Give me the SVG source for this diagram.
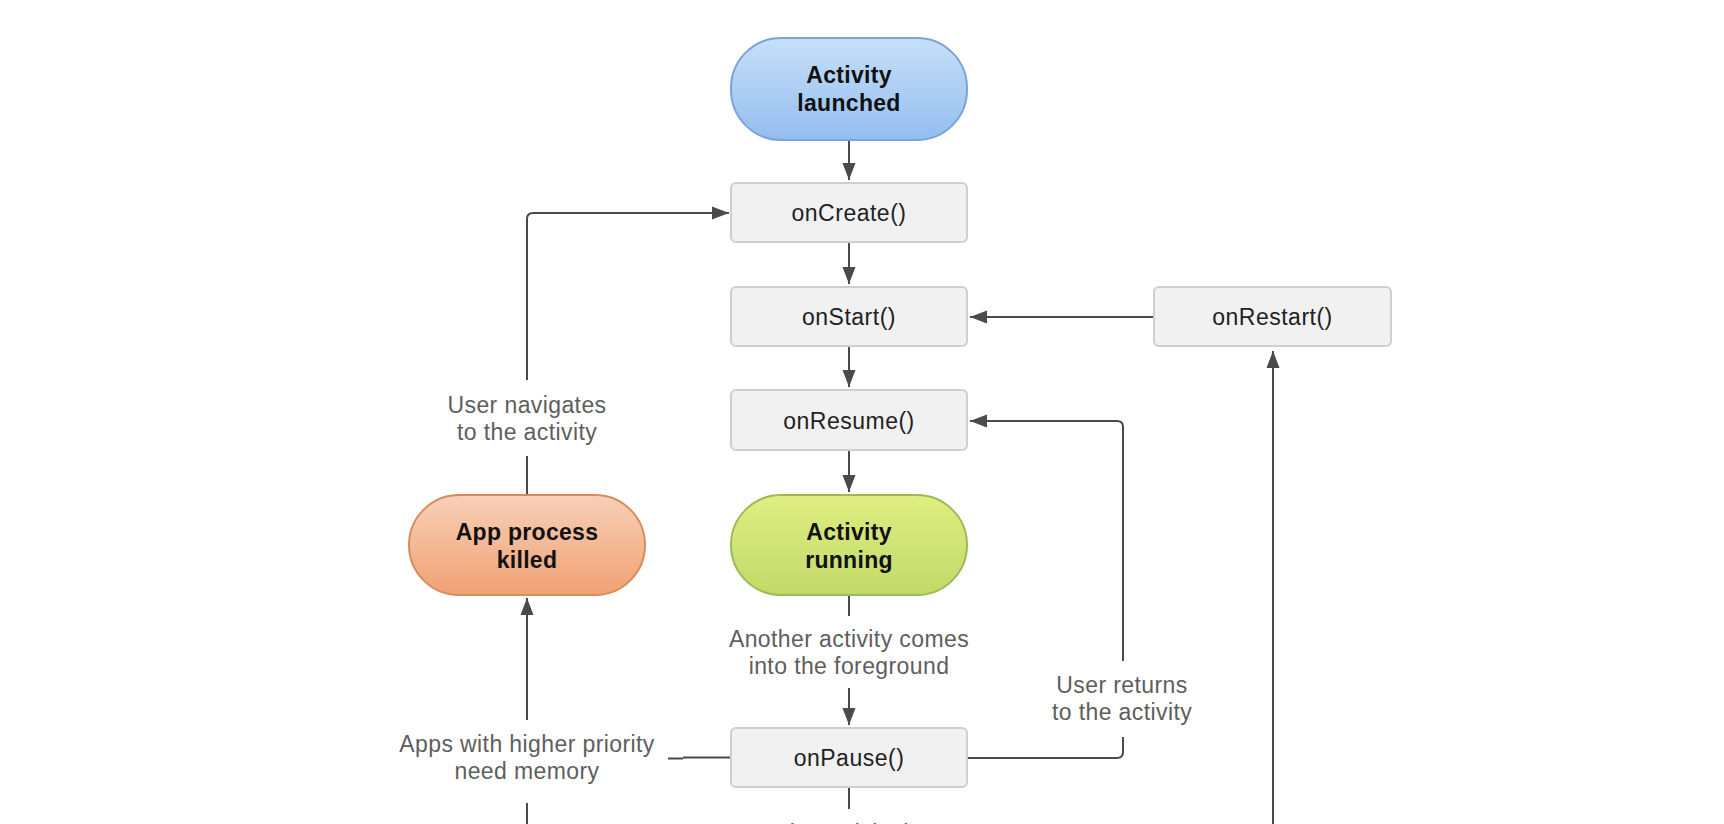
<svg xmlns="http://www.w3.org/2000/svg" width="1724" height="824" viewBox="0 0 1724 824">
  <defs>
    <linearGradient id="gBlue" x1="0" y1="0" x2="0" y2="1">
      <stop offset="0" stop-color="#c6e0f8"/>
      <stop offset="1" stop-color="#94bdef"/>
    </linearGradient>
    <linearGradient id="gOrange" x1="0" y1="0" x2="0" y2="1">
      <stop offset="0" stop-color="#f8d0b8"/>
      <stop offset="1" stop-color="#f0a172"/>
    </linearGradient>
    <linearGradient id="gGreen" x1="0" y1="0" x2="0" y2="1">
      <stop offset="0" stop-color="#dfee80"/>
      <stop offset="1" stop-color="#c2d96a"/>
    </linearGradient>
    <marker id="arr" markerUnits="userSpaceOnUse" markerWidth="18" markerHeight="14" refX="17" refY="7" orient="auto">
      <path d="M0,0.5 L17,7 L0,13.5 z" fill="#4a4a4a"/>
    </marker>
    <style>
      .box { fill: #f1f1f1; stroke: #cfcfcf; stroke-width: 2; }
      .t { font-family: "Liberation Sans", Arial, sans-serif; font-size: 23px; letter-spacing: 0.5px; fill: #222; text-anchor: middle; }
      .b { font-family: "Liberation Sans", Arial, sans-serif; font-size: 23px; font-weight: bold; letter-spacing: 0.3px; fill: #111; text-anchor: middle; }
      .lbl { font-family: "Liberation Sans", Arial, sans-serif; font-size: 23px; letter-spacing: 0.4px; fill: #5e5e5e; text-anchor: middle; }
      .c { fill: none; stroke: #4a4a4a; stroke-width: 2; }
      .ca { fill: none; stroke: #4a4a4a; stroke-width: 2; marker-end: url(#arr); }
    </style>
  </defs>
  <rect width="1724" height="824" fill="#ffffff"/>

  <g id="connectors">
    <path class="ca" d="M849,140 V180"/>
    <path class="ca" d="M849,242 V284"/>
    <path class="ca" d="M849,346 V387"/>
    <path class="ca" d="M849,450 V492"/>
    <path class="c" d="M849,595 V616"/>
    <path class="ca" d="M849,688 V725"/>
    <path class="c" d="M849,787 V809"/>
    <path class="ca" d="M527,380 V219 Q527,213 533,213 H729"/>
    <path class="c" d="M527,495 V456"/>
    <path class="ca" d="M527,720 V598"/>
    <path class="c" d="M527,824 V803"/>
    <path class="c" d="M668,758.5 H683"/>
    <path class="c" d="M683,757.5 H731"/>
    <path class="c" d="M966,758 H1117 Q1123,758 1123,752 V737"/>
    <path class="ca" d="M1123,661 V427 Q1123,421 1117,421 H970"/>
    <path class="ca" d="M1154,317 H970"/>
    <path class="ca" d="M1273,824 V351"/>
  </g>

  <g id="activity-launched">
    <rect x="731" y="38" width="236" height="102" rx="50" ry="50" fill="url(#gBlue)" stroke="#7aa3de" stroke-width="2"/>
    <text class="b" x="849" y="83">Activity</text>
    <text class="b" x="849" y="111">launched</text>
  </g>

  <g id="onCreate">
    <rect class="box" x="731" y="183" width="236" height="59" rx="5"/>
    <text class="t" x="849" y="221">onCreate()</text>
  </g>

  <g id="onStart">
    <rect class="box" x="731" y="287" width="236" height="59" rx="5"/>
    <text class="t" x="849" y="325">onStart()</text>
  </g>

  <g id="onRestart">
    <rect class="box" x="1154" y="287" width="237" height="59" rx="5"/>
    <text class="t" x="1272.5" y="325">onRestart()</text>
  </g>

  <g id="onResume">
    <rect class="box" x="731" y="390" width="236" height="60" rx="5"/>
    <text class="t" x="849" y="429">onResume()</text>
  </g>

  <g id="activity-running">
    <rect x="731" y="495" width="236" height="100" rx="50" ry="50" fill="url(#gGreen)" stroke="#9dba55" stroke-width="2"/>
    <text class="b" x="849" y="540">Activity</text>
    <text class="b" x="849" y="568">running</text>
  </g>

  <g id="app-process-killed">
    <rect x="409" y="495" width="236" height="100" rx="50" ry="50" fill="url(#gOrange)" stroke="#d88c5e" stroke-width="2"/>
    <text class="b" x="527" y="540">App process</text>
    <text class="b" x="527" y="568">killed</text>
  </g>

  <g id="onPause">
    <rect class="box" x="731" y="728" width="236" height="59" rx="5"/>
    <text class="t" x="849" y="766">onPause()</text>
  </g>

  <g id="labels">
    <text class="lbl" x="527" y="413">User navigates</text>
    <text class="lbl" x="527" y="440">to the activity</text>
    <text class="lbl" x="849" y="647">Another activity comes</text>
    <text class="lbl" x="849" y="674">into the foreground</text>
    <text class="lbl" x="1122" y="693">User returns</text>
    <text class="lbl" x="1122" y="720">to the activity</text>
    <text class="lbl" x="527" y="752">Apps with higher priority</text>
    <text class="lbl" x="527" y="779">need memory</text>
    <text class="lbl" x="848" y="841">The activity is</text>
  </g>
</svg>
